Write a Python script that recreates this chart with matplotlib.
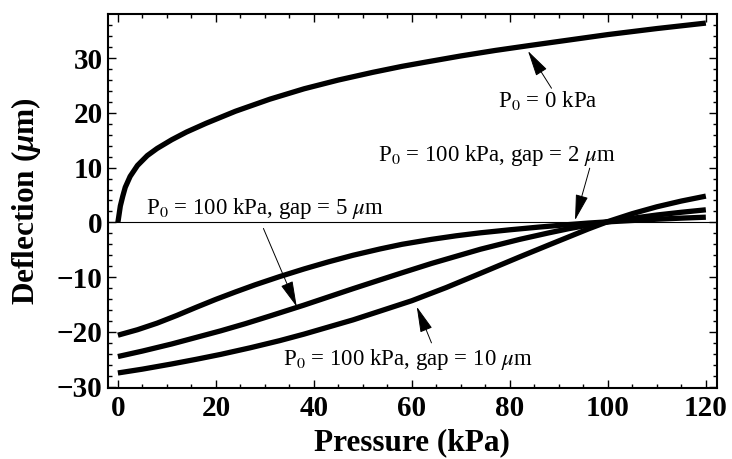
import matplotlib
matplotlib.use("Agg")
import matplotlib.pyplot as plt

matplotlib.rcParams['font.family'] = 'Liberation Serif'
matplotlib.rcParams['mathtext.fontset'] = 'custom'
matplotlib.rcParams['mathtext.it'] = 'Liberation Serif:italic:bold'
matplotlib.rcParams['mathtext.rm'] = 'Liberation Serif:bold'

# --------------------------------------
# Data
# --------------------------------------
p_free = [0, 0.5, 1, 1.5, 2.5, 4, 6, 8, 11, 14, 18, 24, 31, 38, 45, 52,
          58, 63, 70, 77, 84, 92, 100, 110, 120]
d_free = [0, 3.0, 4.8, 6.4, 8.4, 10.4, 12.2, 13.5, 15.1, 16.5, 18.1, 20.3,
          22.5, 24.4, 26.0, 27.4, 28.5, 29.3, 30.4, 31.4, 32.3, 33.3, 34.3,
          35.4, 36.4]

p_gap2 = [0, 4, 8, 12, 16, 20, 24, 28, 33, 38, 43, 48, 53.5, 58, 64, 69,
          74, 80, 86, 92, 96, 100, 105, 110, 115, 120]
d_gap2 = [-20.6, -19.6, -18.4, -17.0, -15.5, -14.05, -12.7, -11.4, -9.9,
          -8.5, -7.2, -6.0, -4.85, -4.0, -3.1, -2.45, -1.9, -1.35, -0.85,
          -0.4, -0.12, 0.1, 0.35, 0.58, 0.78, 0.95]

p_gap5 = [0, 5, 11, 16, 21, 26, 31, 38, 43, 48, 53.5, 58, 64, 69, 74,
          82, 88, 92, 96, 100, 105, 110, 115, 120]
d_gap5 = [-24.5, -23.5, -22.2, -21.0, -19.8, -18.5, -17.1, -15.1, -13.6,
          -12.1, -10.5, -9.2, -7.5, -6.2, -4.9, -3.1, -1.9, -1.15, -0.5,
          0.1, 0.75, 1.35, 1.85, 2.3]

p_gap10 = [0, 5, 11, 16, 21, 27, 33, 38, 43, 48, 53.5, 60, 67, 74, 82, 88,
           92, 96, 100, 105, 110, 115, 120]
d_gap10 = [-27.5, -26.8, -25.85, -25.0, -24.1, -22.9, -21.6, -20.4, -19.1,
           -17.8, -16.2, -14.3, -11.9, -9.3, -6.3, -4.1, -2.65, -1.2, 0.15,
           1.6, 2.85, 3.9, 4.8]

# label text, arrow tip (x, y), arrow tail (x, y), label centre (x, y)
labels = ["P$_0$ = 0 kPa",
          "P$_0$ = 100 kPa, gap = 2 $\\mu$m",
          "P$_0$ = 100 kPa, gap = 5 $\\mu$m",
          "P$_0$ = 100 kPa, gap = 10 $\\mu$m"]
arrow_tips = [(83.7, 31.3), (93.3, 0.4), (36.5, -15.4), (61.0, -15.4)]
arrow_tails = [(88.5, 24.5), (96.3, 9.9), (29.7, -1.1), (64.0, -22.0)]
label_pos = [(87.8, 22.2), (77.4, 12.3), (30.0, 2.6), (59.1, -25.1)]

# --------------------------------------
# Plot
# --------------------------------------
fig = plt.figure(figsize=(7.32, 4.59), dpi=100)
ax = fig.add_axes([0.147, 0.154, 0.832, 0.816])

ax.axhline(0, color="black", lw=0.8, zorder=1)

for p, d in [(p_free, d_free), (p_gap2, d_gap2),
             (p_gap5, d_gap5), (p_gap10, d_gap10)]:
    ax.plot(p, d, color="black", lw=3.8, solid_capstyle="butt",
            solid_joinstyle="round", zorder=3)

for text, tip, tail, pos in zip(labels, arrow_tips, arrow_tails, label_pos):
    ax.annotate("", xy=tip, xytext=tail,
                arrowprops=dict(arrowstyle="-|>,head_length=0.9,head_width=0.22",
                                color="black", lw=0.7, shrinkA=0, shrinkB=0,
                                mutation_scale=18))
    ax.text(pos[0], pos[1], text, ha="center", va="center", fontsize=16.5,
            math_fontfamily="stix", zorder=4)

ax.set_xlim(-2.1, 122.2)
ax.set_ylim(-30.3, 38.1)

ax.set_xticks(range(0, 121, 20))
ax.set_xticks(range(0, 121, 5), minor=True)
ax.set_yticks(range(-30, 31, 10))
ax.set_yticks(range(-30, 37, 2), minor=True)

ax.tick_params(which="both", direction="in", top=True, right=True,
               width=1.0, labelsize=21)
ax.tick_params(axis="x", pad=5)
ax.tick_params(which="major", length=6)
ax.tick_params(which="minor", length=3)
for lab in ax.get_xticklabels() + ax.get_yticklabels():
    lab.set_fontweight("bold")

for s in ax.spines.values():
    s.set_linewidth(1.5)

ax.set_xlabel("Pressure (kPa)", fontsize=22.5, fontweight="bold", labelpad=4)
ax.set_ylabel("Deflection ($\\mu$m)", fontsize=22.5, fontweight="bold",
              labelpad=10, math_fontfamily="custom")

plt.savefig("out.png", dpi=100)
plt.close()
